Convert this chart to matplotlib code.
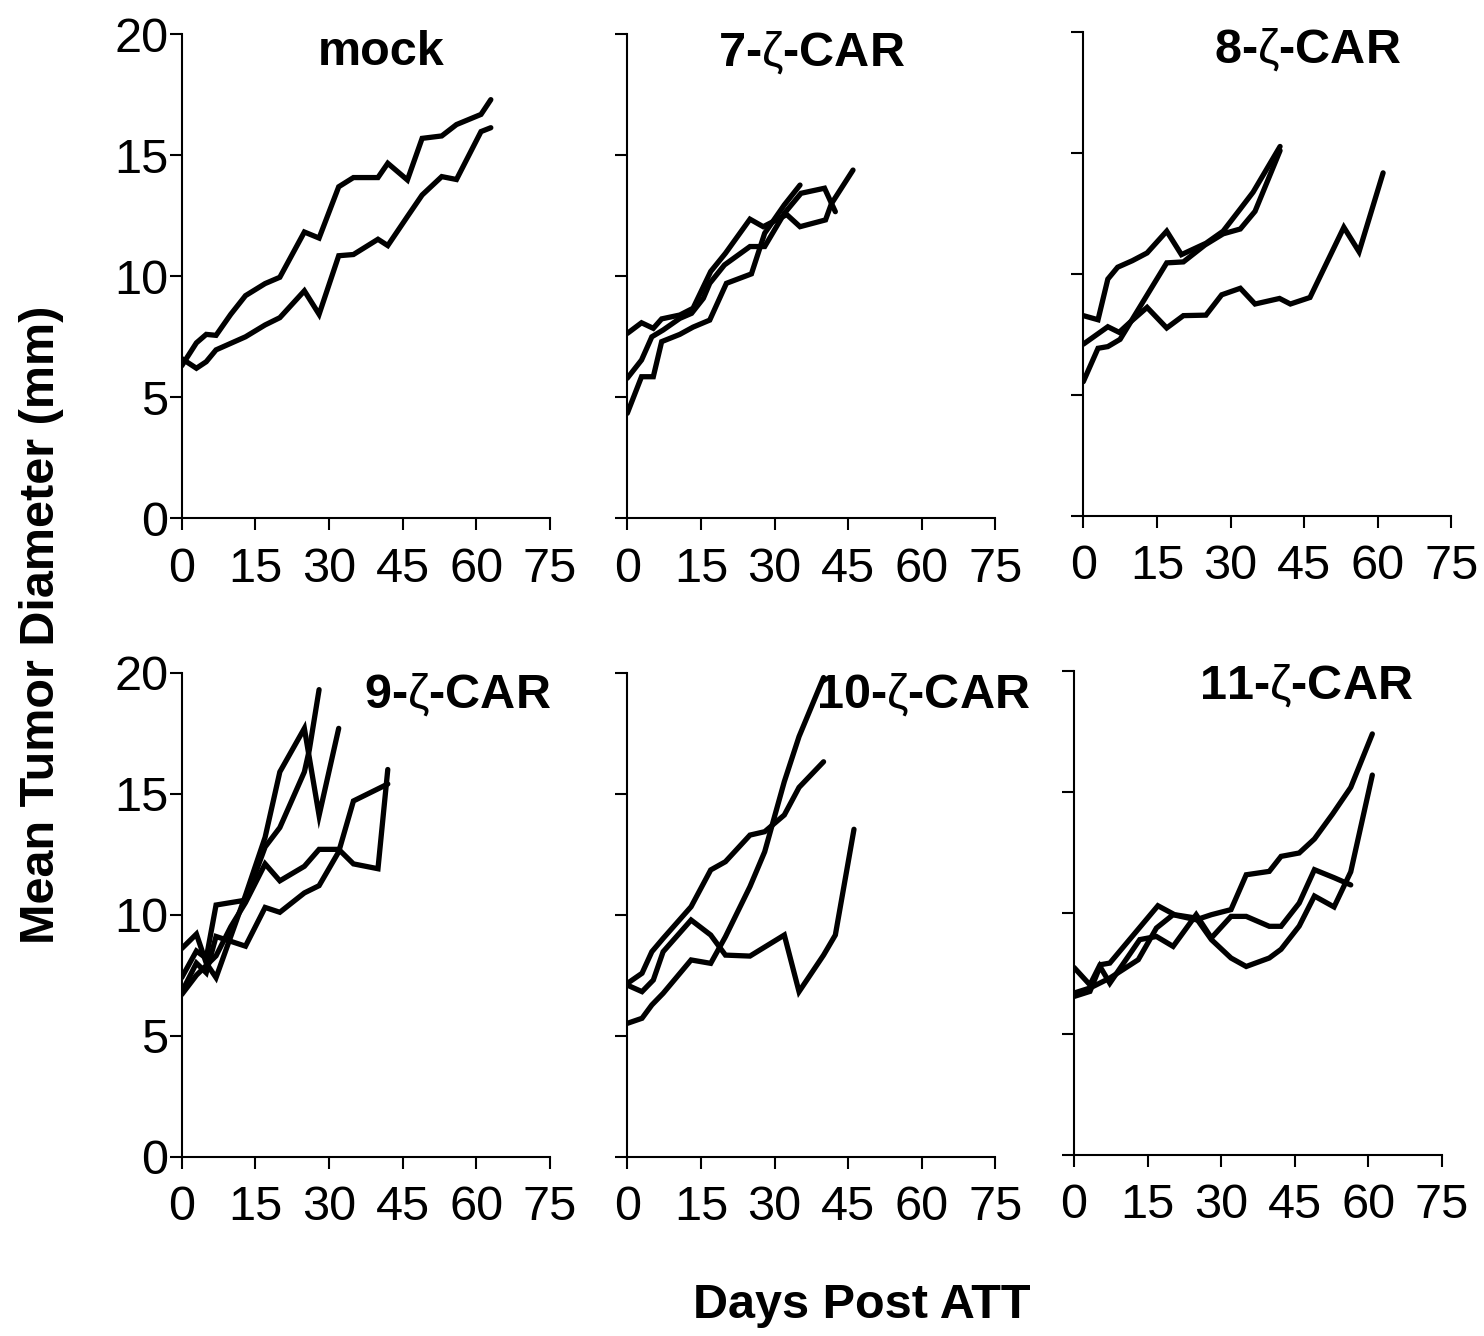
import matplotlib
matplotlib.use("Agg")
import matplotlib.pyplot as plt

plt.rcParams['font.family'] = ['Liberation Sans', 'DejaVu Sans']
plt.rcParams['mathtext.fontset'] = 'custom'
plt.rcParams['mathtext.it'] = 'Liberation Sans'
plt.rcParams['mathtext.rm'] = 'Liberation Sans'

# ---------------- data (days, mean tumor diameter in mm) ----------------
mock_a_days = [0, 3, 5, 7, 10, 13, 17, 20, 25, 28, 32, 35, 40, 42, 46, 49, 53, 56, 61, 63]
mock_a_vals = [6.3, 7.25, 7.6, 7.56, 8.43, 9.2, 9.7, 9.96, 11.83, 11.58, 13.7, 14.08, 14.08, 14.67, 13.98, 15.7, 15.8, 16.27, 16.69, 17.3]
mock_b_days = [0, 3, 5, 7, 10, 13, 17, 20, 25, 28, 32, 35, 40, 42, 46, 49, 53, 56, 61, 63]
mock_b_vals = [6.6, 6.2, 6.47, 6.96, 7.23, 7.5, 7.99, 8.29, 9.4, 8.43, 10.85, 10.9, 11.53, 11.27, 12.47, 13.36, 14.12, 14.0, 15.98, 16.14]

c7_a_days = [0, 2.9, 5.3, 7, 10.7, 13.4, 17, 20, 25, 27.7, 32.5, 35.2, 40.4, 41.6, 46]
c7_a_vals = [7.64, 8.08, 7.85, 8.24, 8.40, 8.68, 10.2, 10.95, 12.36, 12.05, 12.55, 12.05, 12.33, 13.0, 14.39]
c7_b_days = [0, 2.9, 5, 7.3, 10.7, 13.1, 15.5, 16.8, 19.8, 25, 28, 32, 35.4, 40.2, 41.6, 42.4]
c7_b_vals = [5.79, 6.54, 7.5, 7.78, 8.26, 8.47, 9.09, 9.71, 10.47, 11.23, 11.23, 12.6, 13.43, 13.64, 13.02, 12.67]
c7_c_days = [0, 2.9, 5.3, 7, 10.7, 13.4, 16.8, 20.2, 25.3, 28, 32, 35.2]
c7_c_vals = [4.34, 5.85, 5.85, 7.3, 7.6, 7.9, 8.19, 9.71, 10.1, 11.78, 12.95, 13.77]

c8_a_days = [0, 3, 5, 7, 10, 13, 17, 20, 25, 28.5, 32, 34.6, 40.1]
c8_a_vals = [8.28, 8.11, 9.79, 10.28, 10.55, 10.87, 11.77, 10.8, 11.27, 11.77, 12.69, 13.38, 15.27]
c8_b_days = [0, 5, 7.3, 9.5, 13, 17, 20.4, 25, 28.2, 32, 35, 40, 42.2, 46.2, 53.1, 56.2, 61.1]
c8_b_vals = [7.10, 7.82, 7.59, 8.0, 8.62, 7.77, 8.28, 8.30, 9.14, 9.41, 8.76, 8.99, 8.76, 9.03, 11.93, 10.92, 14.18]
c8_c_days = [0, 3, 5, 7.5, 17, 20.4, 24.8, 28.5, 32, 35, 40.1]
c8_c_vals = [5.55, 6.93, 7.0, 7.3, 10.46, 10.5, 11.2, 11.66, 11.86, 12.59, 15.1]

c9_a_days = [0, 3, 5, 7, 13, 17, 20, 25, 28, 32]
c9_a_vals = [8.6, 9.2, 8.0, 7.4, 10.8, 13.2, 15.9, 17.7, 14.1, 17.7]
c9_b_days = [0, 3, 5, 7, 13, 17, 20, 25, 26, 28]
c9_b_vals = [7.4, 8.5, 8.2, 10.4, 10.6, 12.8, 13.6, 15.9, 16.8, 19.3]
c9_c_days = [0, 3, 5, 7, 13, 17, 20, 25, 28, 32, 35, 42]
c9_c_vals = [6.8, 8.0, 7.6, 9.1, 8.7, 10.3, 10.1, 10.9, 11.2, 12.6, 14.7, 15.4]
c9_d_days = [0, 3, 5, 7, 10, 13, 17, 20, 25, 28, 32, 35, 40, 42]
c9_d_vals = [6.7, 7.5, 7.9, 8.3, 9.5, 10.5, 12.1, 11.4, 12.0, 12.7, 12.7, 12.1, 11.9, 16.0]

c10_a_days = [0, 3, 5, 7.3, 13, 17, 20, 25, 28, 32, 35, 40]
c10_a_vals = [5.51, 5.72, 6.27, 6.75, 8.13, 7.99, 9.09, 11.16, 12.6, 15.5, 17.36, 19.8]
c10_b_days = [0, 3, 5, 7.3, 13, 17, 20, 25, 28, 32, 35, 40]
c10_b_vals = [7.16, 7.58, 8.47, 9.02, 10.33, 11.85, 12.19, 13.29, 13.43, 14.12, 15.26, 16.32]
c10_c_days = [0, 3, 5.3, 7.3, 13, 17, 20, 25, 32, 35, 40, 42.4, 46.2]
c10_c_vals = [7.09, 6.82, 7.3, 8.47, 9.78, 9.16, 8.33, 8.29, 9.16, 6.82, 8.33, 9.16, 13.53]

c11_a_days = [0, 3.25, 7.3, 13.1, 16.8, 20.2, 24.9, 28, 32, 35.1, 39.8, 42.2, 45.9, 49, 52.7, 56.4, 60.8]
c11_a_vals = [6.69, 6.9, 7.31, 8.07, 9.38, 9.93, 9.72, 9.93, 10.14, 11.58, 11.72, 12.34, 12.48, 13.06, 14.09, 15.19, 17.4]
c11_b_days = [0, 3.25, 5.3, 7.3, 17.1, 20.5, 24.9, 28, 32, 35.1, 39.8, 42.2, 45.9, 49, 53, 56.4, 60.8]
c11_b_vals = [7.75, 7.03, 7.86, 7.93, 10.3, 9.93, 9.79, 8.9, 8.14, 7.79, 8.14, 8.5, 9.46, 10.7, 10.25, 11.7, 15.7]
c11_c_days = [0, 3.25, 5.3, 7.3, 13.4, 16.8, 20.2, 24.9, 28, 32, 35.1, 39.8, 42.2, 45.9, 49, 53, 56.4]
c11_c_vals = [6.55, 6.76, 7.79, 7.1, 8.9, 9.03, 8.62, 9.93, 8.97, 9.86, 9.86, 9.45, 9.45, 10.41, 11.79, 11.46, 11.16]

panel_titles = ['mock', r'7-$\zeta$-CAR', r'8-$\zeta$-CAR', r'9-$\zeta$-CAR', r'10-$\zeta$-CAR', r'11-$\zeta$-CAR']
panel_series = [
    [(mock_a_days, mock_a_vals), (mock_b_days, mock_b_vals)],
    [(c7_a_days, c7_a_vals), (c7_b_days, c7_b_vals), (c7_c_days, c7_c_vals)],
    [(c8_a_days, c8_a_vals), (c8_b_days, c8_b_vals), (c8_c_days, c8_c_vals)],
    [(c9_a_days, c9_a_vals), (c9_b_days, c9_b_vals), (c9_c_days, c9_c_vals), (c9_d_days, c9_d_vals)],
    [(c10_a_days, c10_a_vals), (c10_b_days, c10_b_vals), (c10_c_days, c10_c_vals)],
    [(c11_a_days, c11_a_vals), (c11_b_days, c11_b_vals), (c11_c_days, c11_c_vals)],
]
x_ticks = [0, 15, 30, 45, 60, 75]
y_ticks = [0, 5, 10, 15, 20]

# ---------------- layout ----------------
W, H = 1484, 1336
fig = plt.figure(figsize=(W / 100, H / 100), dpi=100)

lefts_px = [181.7, 627.3, 1083.3, 181.7, 627.3, 1074.0]
width_px = 368.0
bottoms_px = [518.3, 518.3, 516.0, 1156.7, 1156.7, 1155.0]
height_px = 484.0
title_pos = [(0.542, 0.936), (0.502, 0.936), (0.61, 0.936),
             (0.749, 0.927), (0.804, 0.927), (0.631, 0.943)]

for i in range(6):
    ax = fig.add_axes([lefts_px[i] / W, 1 - bottoms_px[i] / H, width_px / W, height_px / H])
    for d, v in panel_series[i]:
        ax.plot(d, v, color='black', lw=3.8, solid_capstyle='round', solid_joinstyle='miter')
    ax.set_xlim(0, 75)
    ax.set_ylim(0, 20)
    ax.set_xticks(x_ticks)
    ax.set_yticks(y_ticks)
    for s in ['top', 'right']:
        ax.spines[s].set_visible(False)
    for s in ['left', 'bottom']:
        ax.spines[s].set_linewidth(1.5)
    ax.tick_params(direction='out', length=8.5, width=1.5, labelsize=35)
    ax.tick_params(axis='x', pad=12)
    ax.tick_params(axis='y', pad=1)
    if i % 3 != 0:
        ax.set_yticklabels([])
    ax.patch.set_visible(False)
    ax.text(title_pos[i][0], title_pos[i][1], panel_titles[i], transform=ax.transAxes,
            ha='center', va='baseline', fontsize=35, fontweight='bold')

fig.text(42 / W, 1 - 625 / H, 'Mean Tumor Diameter (mm)', rotation=90, ha='center', va='center',
         fontsize=35, fontweight='bold')
fig.text(862 / W, 1 - 1305 / H, 'Days Post ATT', ha='center', va='center',
         fontsize=35, fontweight='bold')

fig.savefig('out.png', dpi=100, facecolor='white')
